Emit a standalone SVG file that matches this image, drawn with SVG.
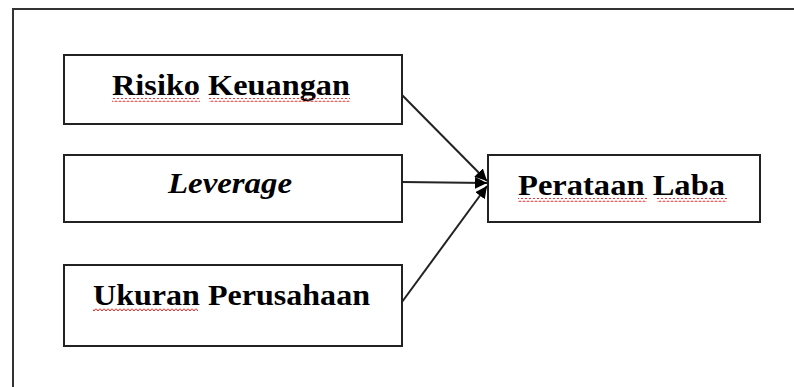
<svg xmlns="http://www.w3.org/2000/svg" width="794" height="387" viewBox="0 0 794 387">
<style>
.box{fill:#fff;stroke:#222;stroke-width:2}
.t{font-family:"Liberation Serif","Times New Roman",serif;font-size:30px;font-weight:bold;fill:#000}
.i{font-style:italic}
.c{stroke:#222;stroke-width:2;fill:none}
.sq{fill:url(#zig)}
</style>
<defs>
<pattern id="zig" patternUnits="userSpaceOnUse" x="0" y="0" width="4" height="4">
<path d="M0,0.5 L2,3 L4,0.5" fill="none" stroke="#e82020" stroke-width="1"/>
</pattern>
<marker id="ah" viewBox="0 0 10 10" refX="10" refY="5" markerWidth="6" markerHeight="6" orient="auto" markerUnits="strokeWidth">
<path d="M0,0 L10,5 L0,10 z" fill="#000"/>
</marker>
</defs>
<rect x="0" y="0" width="794" height="387" fill="#fff"/>
<path d="M13,395 L13,9 L800,9" fill="none" stroke="#333" stroke-width="2"/>
<g id="risiko">
<rect class="box" x="64" y="55" width="338" height="69"/>
<text class="t" x="112" y="95" textLength="238" lengthAdjust="spacingAndGlyphs">Risiko Keuangan</text>
<rect class="sq" x="112" y="98" width="88" height="4"/>
<rect class="sq" x="209" y="98" width="141" height="4"/>
</g>
<g id="leverage">
<rect class="box" x="64" y="155" width="338" height="67"/>
<text class="t i" x="168" y="193" textLength="124" lengthAdjust="spacingAndGlyphs">Leverage</text>
</g>
<g id="ukuran">
<rect class="box" x="64" y="265" width="338" height="81"/>
<text class="t" x="93" y="305" textLength="277" lengthAdjust="spacingAndGlyphs">Ukuran Perusahaan</text>
<rect class="sq" x="93" y="308" width="105" height="4"/>
</g>
<g id="perataan">
<rect class="box" x="488" y="155" width="272" height="67"/>
<text class="t" x="518" y="195" textLength="207" lengthAdjust="spacingAndGlyphs">Perataan Laba</text>
<rect class="sq" x="518" y="198" width="129" height="4"/>
<rect class="sq" x="657" y="198" width="70" height="4"/>
</g>
<g id="connectors">
<line class="c" x1="402" y1="95" x2="487" y2="181" marker-end="url(#ah)"/>
<line class="c" x1="402" y1="182" x2="487" y2="183" marker-end="url(#ah)"/>
<line class="c" x1="402" y1="302" x2="487" y2="186" marker-end="url(#ah)"/>
</g>
</svg>
